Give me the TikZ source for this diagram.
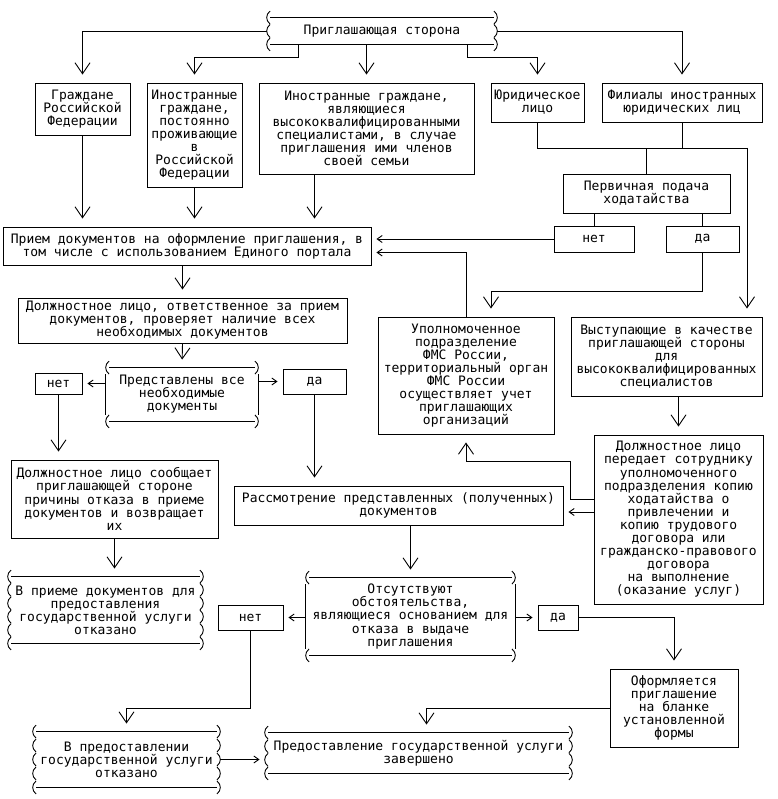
\documentclass[tikz,border=0pt]{standalone}
\usepackage{fontspec}
\newfontfamily\monofont{DejaVu Sans Mono}
\usetikzlibrary{arrows.meta,calc}
\newcommand\boxfont{\fontsize{13}{13.1}\selectfont\monofont}

% sides made of stacked brackets, one per text row
\newcommand\wavysides[2]{%
  \foreach \k in {0,...,#2}
    \path ($(#1.north west)!\k/#2!(#1.south west)$) pic{lpar}
          ($(#1.north east)!\k/#2!(#1.south east)$) pic{rpar};
  \draw ([xshift=3.5]#1.north west) -- ([xshift=-3.5]#1.north east)
        ([xshift=3.5]#1.south west) -- ([xshift=-3.5]#1.south east);
}
% brackets only in the corners, straight sides between
\newcommand\cornersides[1]{%
  \path (#1.north west) pic{lpar} (#1.north east) pic{rpar}
        (#1.south west) pic{lpar} (#1.south east) pic{rpar};
  \draw ([xshift=3.5]#1.north west) -- ([xshift=-3.5]#1.north east)
        ([xshift=3.5]#1.south west) -- ([xshift=-3.5]#1.south east);
  \draw ([yshift=-6.5]#1.north west) -- ([yshift=6.5]#1.south west)
        ([yshift=-6.5]#1.north east) -- ([yshift=6.5]#1.south east);
}

\begin{document}
\begin{tikzpicture}[x=1pt, y=-1pt, line width=0.9pt,
    box/.style={draw, align=center, inner sep=1pt, font=\boxfont},
    bracebox/.style={align=center, inner sep=0pt, font=\boxfont},
    vflow/.style={-{Straight Barb[length=11pt, width=15pt]}, shorten >=8pt},
    hflow/.style={-{Straight Barb[length=5pt, width=7pt]}, shorten >=5pt},
    lpar/.pic={\draw (3.5,-6.5) .. controls (-1,-3) and (-1,3) .. (3.5,6.5);},
    rpar/.pic={\draw (-3.5,-6.5) .. controls (1,-3) and (1,3) .. (-3.5,6.5);}]
  \path[use as bounding box, fill=white] (0,0) rectangle (777,799);

  % Inviting party and its five kinds
  \node[bracebox, minimum width=230, minimum height=26] (inv) at (382,31) {Приглашающая сторона};
  \wavysides{inv}{2}
  \node[box, minimum width=95, minimum height=52] (citz) at (82.5,109) {Граждане\\Российской\\Федерации};
  \node[box, minimum width=95, minimum height=104] (resid) at (194.5,135) {Иностранные\\граждане,\\постоянно\\проживающие\\в\\Российской\\Федерации};
  \node[box, minimum width=215, minimum height=91] (expert) at (366.5,128.5) {Иностранные граждане,\\являющиеся\\высококвалифицированными\\специалистами, в случае\\приглашения ими членов\\своей семьи};
  \node[box, minimum width=93, minimum height=39] (legal) at (537.5,102.5) {Юридическое\\лицо};
  \node[box, minimum width=160, minimum height=39] (branch) at (682,102.5) {Филиалы иностранных\\юридических лиц};

  \draw[vflow] (inv.west) -| (citz.north);
  \draw[vflow] ([xshift=-84]inv.south) -- ++(0,13) -| (resid.north);
  \draw[vflow] (inv.south -| expert.north) -- (expert.north);
  \draw[vflow] ([xshift=85]inv.south) -- ++(0,13) -| (legal.north);
  \draw[vflow] (inv.east) -| (branch.north);

  % Legal persons: first application or not
  \node[box, minimum width=167, minimum height=39] (first) at (646.5,193.5) {Первичная подача\\ходатайства};
  \node[box, minimum width=80, minimum height=26] (no1) at (594,239) {нет};
  \node[box, minimum width=73, minimum height=26] (yes1) at (702.5,239) {да};
  \coordinate (bus) at (747,148);
  \draw (legal.south) |- (bus);
  \draw (branch.south) -- (branch.south |- bus);
  \draw (first.north) -- (first.north |- bus);
  \draw (no1.north) -- (no1.north |- first.south);
  \draw (yes1.north) -- (yes1.north |- first.south);

  % Reception of documents
  \node[box, minimum width=368, minimum height=38] (priem) at (187,246) {Прием документов на оформление приглашения, в\\том числе с использованием Единого портала};
  \coordinate (priemIn) at ([yshift=-6.5]priem.east);
  \draw[vflow] (citz.south) -- (citz.south |- priem.north);
  \draw[vflow] (resid.south) -- (resid.south |- priem.north);
  \coordinate (expertOut) at ([xshift=-52]expert.south);
  \draw[vflow] (expertOut) -- (expertOut |- priem.north);
  \draw[hflow] (no1.west) -- (no1.west -| priem.east);

  \node[box, minimum width=176, minimum height=117] (auth) at (466,375.5) {Уполномоченное\\подразделение\\ФМС России,\\территориальный орган\\ФМС России\\осуществляет учет\\приглашающих\\организаций};
  \node[box, minimum width=191, minimum height=79] (spec) at (666.5,356.5) {Выступающие в качестве\\приглашающей стороны\\для\\высококвалифицированных\\специалистов};
  \node[box, minimum width=169, minimum height=169] (handover) at (678.5,519.5) {Должностное лицо\\передает сотруднику\\уполномоченного\\подразделения копию\\ходатайства о\\привлечении и\\копию трудового\\договора или\\гражданско-правового\\договора\\на выполнение\\(оказание услуг)};
  \draw[vflow] (yes1.south) -- ++(0,39) -| ([xshift=25]auth.north);
  \draw[hflow] (auth.north) |- (priemIn);
  \draw[vflow] (bus) -- (bus |- spec.north);
  \draw[vflow] (handover.north |- spec.south) -- (handover.north);
  \draw[vflow] ([yshift=20.5]handover.west) -- ++(-23,0) -- ++(0,-38) -| (auth.south);

  % Check of completeness
  \node[box, minimum width=329, minimum height=45] (check) at (182.5,320.5) {Должностное лицо, ответственное за прием\\документов, проверяет наличие всех\\необходимых документов};
  \node[bracebox, minimum width=152, minimum height=53] (complete) at (182,394.5) {Представлены все\\необходимые\\документы};
  \cornersides{complete}
  \node[box, minimum width=47, minimum height=21] (no2) at (58.5,383.5) {нет};
  \node[box, minimum width=63, minimum height=25] (yes2) at (314.5,381.5) {да};
  \draw[vflow] (check.north |- priem.south) -- (check.north);
  \draw[vflow] (check.south) -- (complete.north);
  \draw[hflow] (complete.west |- no2.east) -- (no2.east);
  \draw[hflow] (complete.east |- yes2.west) -- (yes2.west);

  \node[box, minimum width=207, minimum height=78] (inform) at (114.5,499) {Должностное лицо сообщает\\приглашающей стороне\\причины отказа в приеме\\документов и возвращает\\их};
  \node[bracebox, minimum width=195, minimum height=66] (refuse1) at (105.5,610) {В приеме документов для\\предоставления\\государственной услуги\\отказано};
  \wavysides{refuse1}{5}
  \draw[vflow] (no2.south) -- (no2.south |- inform.north);
  \draw[vflow] (inform.south) -- (inform.south |- refuse1.north);

  % Review of the documents
  \node[box, minimum width=329, minimum height=39] (review) at (398.5,505.5) {Рассмотрение представленных (полученных)\\документов};
  \coordinate (reviewIn) at ([yshift=-6.5]review.east);
  \draw[vflow] (yes2.south) -- (yes2.south |- review.north);
  \draw[hflow] (handover.west |- reviewIn) -- (reviewIn);

  \node[bracebox, minimum width=209, minimum height=77] (absent) at (410.5,616.5) {Отсутствуют\\обстоятельства,\\являющиеся основанием для\\отказа в выдаче\\приглашения};
  \cornersides{absent}
  \node[box, minimum width=65, minimum height=25] (no3) at (250.5,617.5) {нет};
  \node[box, minimum width=40, minimum height=25] (yes3) at (558,617.5) {да};
  \draw[vflow] (absent.north |- review.south) -- (absent.north);
  \draw[hflow] (absent.west |- no3.east) -- (no3.east);
  \draw[hflow] (absent.east |- yes3.west) -- (yes3.west);

  % Outcomes
  \node[box, minimum width=128, minimum height=78] (issue) at (674,708) {Оформляется\\приглашение\\на бланке\\установленной\\формы};
  \node[bracebox, minimum width=187, minimum height=55] (refuse2) at (126.5,759.5) {В предоставлении\\государственной услуги\\отказано};
  \wavysides{refuse2}{4}
  \node[bracebox, minimum width=307, minimum height=40] (done) at (418.5,753) {Предоставление государственной услуги\\завершено};
  \wavysides{done}{3}
  \draw[vflow] (yes3.east) -| (issue.north);
  \draw[vflow] (no3.south) -- (no3.south |- issue.west) -| (refuse2.north);
  \draw[vflow] (issue.west) -| ([xshift=8]done.north);
  \draw[hflow] (refuse2.east) -- (refuse2.east -| done.west);
\end{tikzpicture}
\end{document}
